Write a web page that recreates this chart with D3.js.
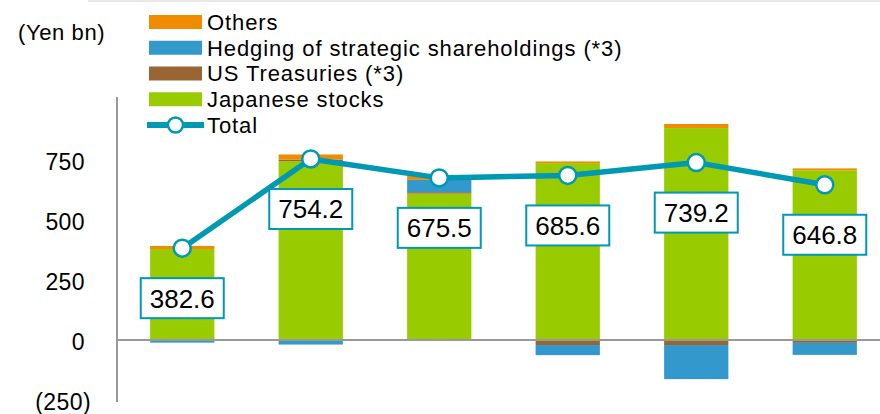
<!DOCTYPE html>
<html>
<head>
<meta charset="utf-8">
<script src="https://cdn.jsdelivr.net/npm/d3@7"></script>
<style>
  body { margin: 0; background: #fff; }
  svg { display: block; font-family: 'Liberation Sans', Arial, sans-serif; }
  .tick text { font-size: 23px; fill: #000; letter-spacing: 0.4px; }
  .legend text { font-size: 22px; fill: #000; letter-spacing: 0.9px; }
  .valbox text { font-size: 26px; fill: #000; }
</style>
</head>
<body>
<svg id="chart"></svg>
<script>
// data (Yen bn)
var periods = ["1", "2", "3", "4", "5", "6"];
var japaneseStocks = [379, 745, 610, 737, 883, 707];
var usTreasuries = [0, 7, 6, -21, -21, -12];
var hedging = [-11, -19, 51, -42, -142, -50];
var others = [13, 21, 16, 7, 17, 8];
var totals = [382.6, 754.2, 675.5, 685.6, 739.2, 646.8];
var yTicks = [-250, 0, 250, 500, 750];

var seriesKeys = ["jp", "us", "hedge", "others"];
var seriesNames = {
  others: "Others",
  hedge: "Hedging of strategic shareholdings (*3)",
  us: "US Treasuries (*3)",
  jp: "Japanese stocks"
};
var colors = { jp: "#99cc00", us: "#996633", hedge: "#3399cc", others: "#f08c00" };
var teal = "#0099b3";

var width = 880, height = 414;
var svg = d3.select("#chart").attr("width", width).attr("height", height);

var rows = periods.map(function(p, i) {
  return { period: p, jp: japaneseStocks[i], us: usTreasuries[i], hedge: hedging[i], others: others[i], total: totals[i] };
});

var x = d3.scaleBand().domain(periods).range([118, 889]).paddingInner(0.5).paddingOuter(0.25);
var y = d3.scaleLinear().domain([-250, 1000]).range([400, 100]);

// faint line along the top
svg.append("line").attr("x1", 88).attr("x2", width).attr("y1", 1).attr("y2", 1)
  .attr("stroke", "#e0e0e0").attr("stroke-width", 1.5);

// y axis
var yAxis = svg.append("g").attr("transform", "translate(117,0)")
  .call(d3.axisLeft(y).tickValues(yTicks).tickSize(0).tickPadding(32)
    .tickFormat(function(d) { return d < 0 ? "(" + Math.abs(d) + ")" : d; }));
yAxis.select(".domain").attr("stroke", "#999").attr("stroke-width", 2).attr("d", "M0,97V402");
yAxis.selectAll("text").attr("dy", "0.42em").attr("dx", function(d) { return d < 0 ? 6 : 0; });

// stacked bars
var stack = d3.stack().keys(seriesKeys).offset(d3.stackOffsetDiverging);
var layers = stack(rows);

svg.append("g").selectAll("g")
  .data(layers)
  .join("g")
  .attr("fill", function(d) { return colors[d.key]; })
  .selectAll("rect")
  .data(function(d) { return d; })
  .join("rect")
  .attr("x", function(d) { return x(d.data.period); })
  .attr("width", x.bandwidth())
  .attr("y", function(d) { return y(Math.max(d[0], d[1])); })
  .attr("height", function(d) { return Math.abs(y(d[0]) - y(d[1])); });

// zero line
svg.append("line").attr("x1", 117).attr("x2", width).attr("y1", y(0)).attr("y2", y(0))
  .attr("stroke", "#999").attr("stroke-width", 2);

// total line
var cx = function(d) { return x(d.period) + x.bandwidth() / 2; };
var line = d3.line().x(cx).y(function(d) { return y(d.total); });

svg.append("path").datum(rows)
  .attr("d", line).attr("fill", "none")
  .attr("stroke", teal).attr("stroke-width", 5.5).attr("stroke-linejoin", "round");

svg.append("g").selectAll("circle")
  .data(rows).join("circle")
  .attr("cx", cx).attr("cy", function(d) { return y(d.total); })
  .attr("r", 8.5).attr("fill", "#fff").attr("stroke", teal).attr("stroke-width", 2.5);

// value boxes under the points
var boxW = 83, boxH = 40, boxOffset = 50;
var boxes = svg.append("g").attr("class", "valbox").selectAll("g")
  .data(rows).join("g")
  .attr("transform", function(d) { return "translate(" + cx(d) + "," + (y(d.total) + boxOffset) + ")"; });
boxes.append("rect")
  .attr("x", -boxW / 2).attr("y", -boxH / 2).attr("width", boxW).attr("height", boxH)
  .attr("fill", "#fff").attr("stroke", teal).attr("stroke-width", 2);
boxes.append("text")
  .attr("text-anchor", "middle").attr("dy", "0.36em")
  .text(function(d) { return d.total.toFixed(1); });

// unit label
svg.append("text").attr("x", 18).attr("y", 32).attr("dy", "0.35em")
  .style("font-size", "22px").style("letter-spacing", "0.6px").text("(Yen bn)");

// legend
var legendKeys = ["others", "hedge", "us", "jp"];
var legend = svg.append("g").attr("class", "legend");
var rowY = function(i) { return 22 + i * 25.75; };

legend.selectAll("rect")
  .data(legendKeys).join("rect")
  .attr("x", 149).attr("y", function(d, i) { return rowY(i) - 7; })
  .attr("width", 53).attr("height", 14)
  .attr("fill", function(d) { return colors[d]; });

legend.selectAll("text.item")
  .data(legendKeys.concat(["total"])).join("text")
  .attr("class", "item")
  .attr("x", 207).attr("y", function(d, i) { return rowY(i); }).attr("dy", "0.36em")
  .text(function(d) { return d === "total" ? "Total" : seriesNames[d]; });

legend.append("line")
  .attr("x1", 147).attr("x2", 204).attr("y1", rowY(4)).attr("y2", rowY(4))
  .attr("stroke", teal).attr("stroke-width", 6);
legend.append("circle")
  .attr("cx", 175.5).attr("cy", rowY(4)).attr("r", 7.5)
  .attr("fill", "#fff").attr("stroke", teal).attr("stroke-width", 2.5);
</script>
</body>
</html>
